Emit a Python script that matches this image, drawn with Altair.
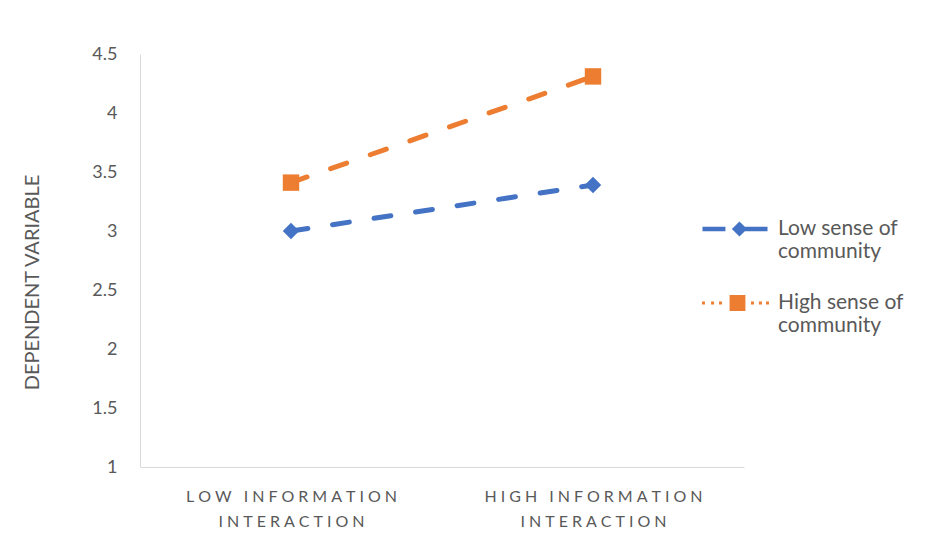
import altair as alt
import pandas as pd

categories = ["LOW INFORMATION INTERACTION", "HIGH INFORMATION INTERACTION"]
series_names = ["Low sense of community", "High sense of community"]
low_values = [3.0, 3.39]
high_values = [3.41, 4.31]
y_ticks = [1, 1.5, 2, 2.5, 3, 3.5, 4, 4.5]

colors = ["#4472C4", "#ED7D31"]

rows = []
for c, v in zip(categories, low_values):
    rows.append({"x": c, "y": v, "series": series_names[0]})
for c, v in zip(categories, high_values):
    rows.append({"x": c, "y": v, "series": series_names[1]})
df = pd.DataFrame(rows)

FONT = "Lato"
TXT = "#595959"

first = "substring(datum.label, 0, lastindexof(datum.label, ' '))"
last = "substring(datum.label, lastindexof(datum.label, ' ') + 1)"
split_expr = f"[{first}, {last}]"
sp = "regexp('(.)', 'g')"
gap = "\u2009\u2009"
spaced_split_expr = (f"[replace({first}, {sp}, '$1{gap}'), "
                     f"replace({last}, {sp}, '$1{gap}')]")

# legend symbols: dashed line + diamond, dotted line + square (filled paths)
blue_sym = ("M-0.985,-0.07H-0.29V0.07H-0.985Z "
            "M0.136,-0.23L0.366,0L0.136,0.23L-0.094,0Z "
            "M0.3,-0.07H0.985V0.07H0.3Z")
orange_sym = ("M-1,-0.045H-0.91V0.045H-1Z M-0.725,-0.045H-0.635V0.045H-0.725Z "
              "M-0.485,-0.045H-0.395V0.045H-0.485Z "
              "M-0.164,-0.24H0.316V0.24H-0.164Z "
              "M0.485,-0.045H0.575V0.045H0.485Z M0.725,-0.045H0.815V0.045H0.725Z "
              "M0.94,-0.045H1.03V0.045H0.94Z")

x_enc = alt.X("x:N", sort=categories,
              scale=alt.Scale(type="point", padding=0.5),
              axis=alt.Axis(title=None, labelExpr=spaced_split_expr, labelFont=FONT,
                            labelFontSize=16, labelColor=TXT, labelPadding=21,
                            labelLineHeight=25, labelBaseline="top", labelAngle=0,
                            ticks=False, domainColor="#D9D9D9", domainWidth=1,
                            labelLimit=400))
y_enc = alt.Y("y:Q", scale=alt.Scale(domain=[1, 4.5], nice=False, zero=False),
              axis=alt.Axis(title="DEPENDENT VARIABLE", values=y_ticks, format="~g",
                            labelFont=FONT, labelFontSize=18, labelColor=TXT,
                            labelPadding=23, ticks=False, grid=False,
                            domainColor="#D9D9D9", domainWidth=1,
                            titleFont=FONT, titleFontSize=20, titleFontWeight="normal",
                            titleColor=TXT, titleX=-108, titleY=228,
                            titleAlign="center", titleBaseline="middle", titleAngle=270))

color_scale = alt.Scale(domain=series_names, range=colors)

lines = alt.Chart(df).mark_line(strokeWidth=5, strokeDash=[17, 25], strokeCap="round").encode(
    x=x_enc, y=y_enc,
    color=alt.Color("series:N", scale=color_scale, legend=None),
    detail="series:N",
)

points = alt.Chart(df).mark_point(filled=True, opacity=1, size=270).encode(
    x=x_enc, y=y_enc,
    color=alt.Color("series:N", scale=color_scale, legend=None),
    shape=alt.Shape("series:N", scale=alt.Scale(domain=series_names, range=["diamond", "square"]), legend=None),
)

legend_props = dict(title=None, orient="none", legendX=561, legendY=141,
                    labelExpr=split_expr, labelFont=FONT, labelFontSize=21,
                    labelColor=TXT, symbolSize=4356,
                    labelOffset=9, rowPadding=7, labelLimit=300, symbolOpacity=1)

legend_layer = alt.Chart(df).transform_filter("false").mark_point(filled=True, opacity=1).encode(
    x=x_enc, y=y_enc,
    color=alt.Color("series:N", scale=color_scale, legend=alt.Legend(**legend_props)),
    shape=alt.Shape("series:N", scale=alt.Scale(domain=series_names, range=[blue_sym, orange_sym]),
                    legend=alt.Legend(**legend_props)),
)

chart = alt.layer(lines, points, legend_layer).resolve_scale(
    color="independent", shape="independent"
).properties(
    width=604, height=413,
    autosize=alt.AutoSizeParams(type="none"),
    padding={"left": 140, "top": 54, "right": 183, "bottom": 73},
).configure(background="white").configure_view(stroke=None)

chart.save("out.html", embed_options={"renderer": "svg", "actions": False})
